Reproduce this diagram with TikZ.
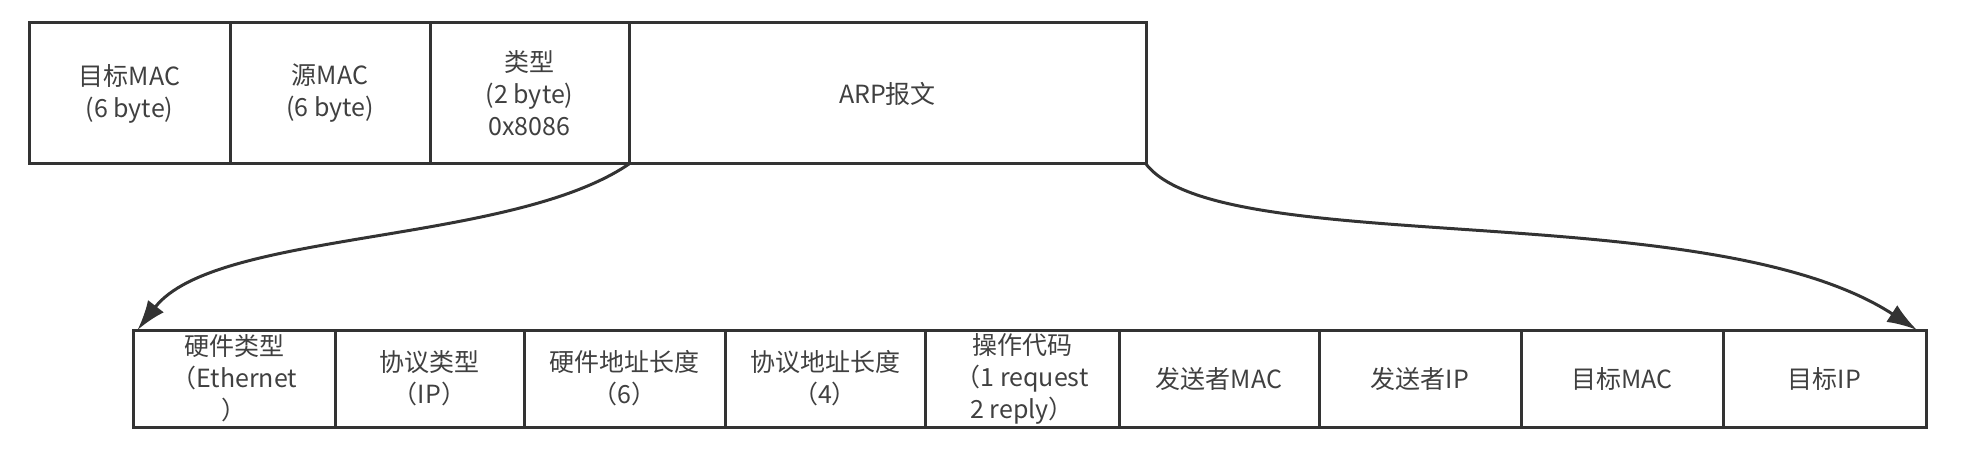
\documentclass[tikz,border=0pt]{standalone}
\usepackage{fontspec}
\setmainfont{Noto Sans CJK SC}
\usetikzlibrary{positioning,arrows.meta}

\begin{document}
\begin{tikzpicture}[>={Latex[length=15pt,width=10pt]}, x=0.5pt, y=-0.5pt,
	campo/.style={draw=black!80, line width=1.5pt, rectangle, inner sep=0pt, outer sep=0pt,
		align=center, text=black!75, font=\fontsize{12.5pt}{16pt}\selectfont},
	alto/.style={campo, minimum height=70.5pt},
	basso/.style={campo, minimum height=48.5pt},
	freccia/.style={->, draw=black!80, line width=1.5pt}]
	\useasboundingbox (0,0) rectangle (1974,470);
	%Trama Ethernet
	\node [alto, minimum width=100.5pt, anchor=north west] (dmac) at (29,23) {目标MAC\\(6 byte)};
	\node [alto, minimum width=100pt, right=0pt of dmac] (smac) {源MAC\\(6 byte)};
	\node [alto, minimum width=99.5pt, right=0pt of smac] (tipo) {类型\\(2 byte)\\0x8086};
	\node [alto, minimum width=258.5pt, right=0pt of tipo] (arp) {ARP报文};
	%Pacchetto ARP
	\node [basso, minimum width=100.75pt, anchor=north west] (hw) at (133.5,330) {硬件类型\\（Ethernet\\）};
	\node [basso, minimum width=94.5pt, right=0pt of hw] (proto) {协议类型\\（IP）};
	\node [basso, minimum width=100.5pt, right=0pt of proto] (hwlen) {硬件地址长度\\（6）};
	\node [basso, minimum width=100pt, right=0pt of hwlen] (protolen) {协议地址长度\\（4）};
	\node [basso, minimum width=97pt, right=0pt of protolen] (op) {操作代码\\（1 request\\2 reply）};
	\node [basso, minimum width=100pt, right=0pt of op] (smacarp) {发送者MAC};
	\node [basso, minimum width=101pt, right=0pt of smacarp] (sip) {发送者IP};
	\node [basso, minimum width=101pt, right=0pt of sip] (tmac) {目标MAC};
	\node [basso, minimum width=101.5pt, right=0pt of tmac] (tip) {目标IP};
	%Collegamenti
	\coordinate (arrivo) at ([xshift=2pt]hw.north west);
	\draw [freccia] (tipo.south east) .. controls (510,245) and (215,230) .. (arrivo);
	\coordinate (fine) at ([xshift=-4.5pt]tip.north east);
	\draw [freccia] (arp.south east) .. controls (1220,260) and (1710,195) .. (fine);
\end{tikzpicture}
\end{document}
